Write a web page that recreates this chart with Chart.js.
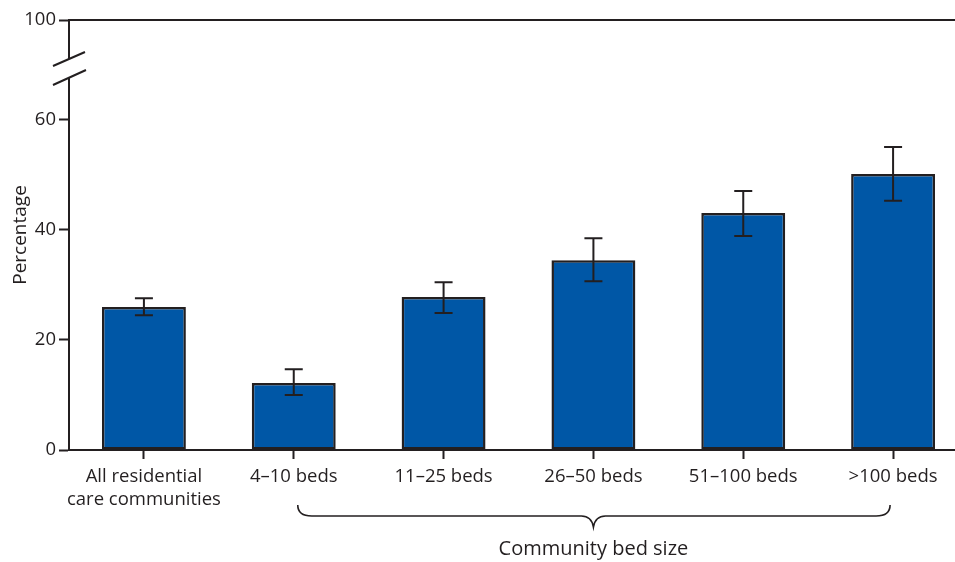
<!DOCTYPE html>
<html>
<head>
<meta charset="utf-8">
<script src="https://cdn.jsdelivr.net/npm/chart.js@4"></script>
<style>
    html, body { margin: 0; padding: 0; background: #fff; overflow: hidden; }
    #wrap { width: 980px; height: 562px; }
</style>
</head>
<body>
<div id="wrap"><canvas id="bed-chart" width="980" height="562"></canvas></div>
<script>
// --- Data ---
const categories = [
    ['All residential', 'care communities'],
    '4\u201310 beds',
    '11\u201325 beds',
    '26\u201350 beds',
    '51\u2013100 beds',
    '>100 beds'
];
const percentages = [26.0, 12.2, 27.8, 34.5, 43.1, 50.2];
const ciLower = [24.5, 10.0, 24.9, 30.7, 38.9, 45.3];
const ciUpper = [27.6, 14.7, 30.5, 38.5, 47.1, 55.1];
const yTickValues = [0, 20, 40, 60];
const yTopLabel = '100';
const yTopPosition = 78.18; // where the broken axis tops out

const ink = '#231f20';
const barBlue = '#0057a6';
const fontFamily = "'Open Sans', 'Noto Sans', sans-serif";

// --- Error bars, axis break, bracket ---
const extrasPlugin = {
    id: 'extras',
    afterDatasetsDraw(chart) {
        const { ctx, scales: { x, y } } = chart;
        ctx.save();
        ctx.strokeStyle = ink;
        ctx.lineWidth = 2;
        percentages.forEach((v, i) => {
            const px = x.getPixelForValue(i);
            const top = y.getPixelForValue(ciUpper[i]);
            const bot = y.getPixelForValue(ciLower[i]);
            ctx.beginPath();
            ctx.moveTo(px, top); ctx.lineTo(px, bot);
            ctx.moveTo(px - 9, top); ctx.lineTo(px + 9, top);
            ctx.moveTo(px - 9, bot); ctx.lineTo(px + 9, bot);
            ctx.stroke();
        });
        ctx.restore();
    },
    afterDraw(chart) {
        const { ctx, chartArea, scales: { x, y } } = chart;
        ctx.save();
        ctx.strokeStyle = ink;
        ctx.lineWidth = 2;

        // top line
        ctx.beginPath();
        ctx.moveTo(chartArea.left, chartArea.top);
        ctx.lineTo(chart.width, chartArea.top);
        ctx.stroke();

        // axis break
        const ax = chartArea.left;
        ctx.fillStyle = '#fff';
        ctx.fillRect(ax - 3, 59, 6, 18);
        ctx.beginPath();
        ctx.moveTo(53, 66); ctx.lineTo(85, 52);
        ctx.moveTo(53, 85); ctx.lineTo(86, 70);
        ctx.stroke();

        // bracket under categories 2-6
        const x1 = x.getPixelForValue(1) + 4;
        const x2 = x.getPixelForValue(5) - 3;
        const mid = (x.getPixelForValue(1) + x.getPixelForValue(5)) / 2;
        const yTop = 505, yMid = 516, yTip = 527, r = 10;
        ctx.lineWidth = 1.6;
        ctx.beginPath();
        ctx.moveTo(x1, yTop);
        ctx.quadraticCurveTo(x1, yMid, x1 + r + 4, yMid);
        ctx.lineTo(mid - 12, yMid);
        ctx.quadraticCurveTo(mid - 2, yMid, mid, yTip);
        ctx.quadraticCurveTo(mid + 2, yMid, mid + 12, yMid);
        ctx.lineTo(x2 - r - 4, yMid);
        ctx.quadraticCurveTo(x2, yMid, x2, yTop);
        ctx.stroke();

        // x title
        ctx.fillStyle = ink;
        ctx.font = '20px ' + fontFamily;
        ctx.textAlign = 'center';
        ctx.textBaseline = 'middle';
        ctx.fillText('Community bed size', mid, 549);
        ctx.restore();
    }
};

const ctx = document.getElementById('bed-chart').getContext('2d');
new Chart(ctx, {
    type: 'bar',
    data: {
        labels: categories,
        datasets: [{
            data: percentages,
            backgroundColor: barBlue,
            borderColor: ink,
            borderWidth: 2.5,
            borderSkipped: false,
            barPercentage: 0.56,
            categoryPercentage: 1
        }]
    },
    options: {
        responsive: false,
        animation: false,
        layout: { padding: { top: 20, right: 12, left: 0, bottom: 0 } },
        plugins: {
            legend: { display: false },
            tooltip: { enabled: false }
        },
        scales: {
            x: {
                offset: true,
                grid: { display: true, drawOnChartArea: false, offset: false, tickLength: 9, tickWidth: 2, tickColor: ink },
                border: { color: ink, width: 2 },
                ticks: {
                    color: ink,
                    font: { family: fontFamily, size: 18.5 },
                    padding: 7,
                    maxRotation: 0,
                    autoSkip: false
                },
                afterFit(scale) { scale.height = 112; }
            },
            y: {
                min: 0,
                max: yTopPosition,
                grid: { display: true, drawOnChartArea: false, tickLength: 10, tickWidth: 2, tickColor: ink },
                border: { color: ink, width: 2 },
                afterBuildTicks(scale) {
                    scale.ticks = yTickValues.concat([yTopPosition]).map(v => ({ value: v }));
                },
                ticks: {
                    color: ink,
                    font: { family: fontFamily, size: 18.5 },
                    padding: 3,
                    callback: (v) => (v === yTopPosition ? yTopLabel : v)
                },
                title: {
                    display: true,
                    text: 'Percentage',
                    color: ink,
                    font: { family: fontFamily, size: 19 },
                    padding: { top: 9, bottom: 0 }
                },
                afterFit(scale) { scale.width = 69; }
            }
        }
    },
    plugins: [extrasPlugin]
});
</script>
</body>
</html>
